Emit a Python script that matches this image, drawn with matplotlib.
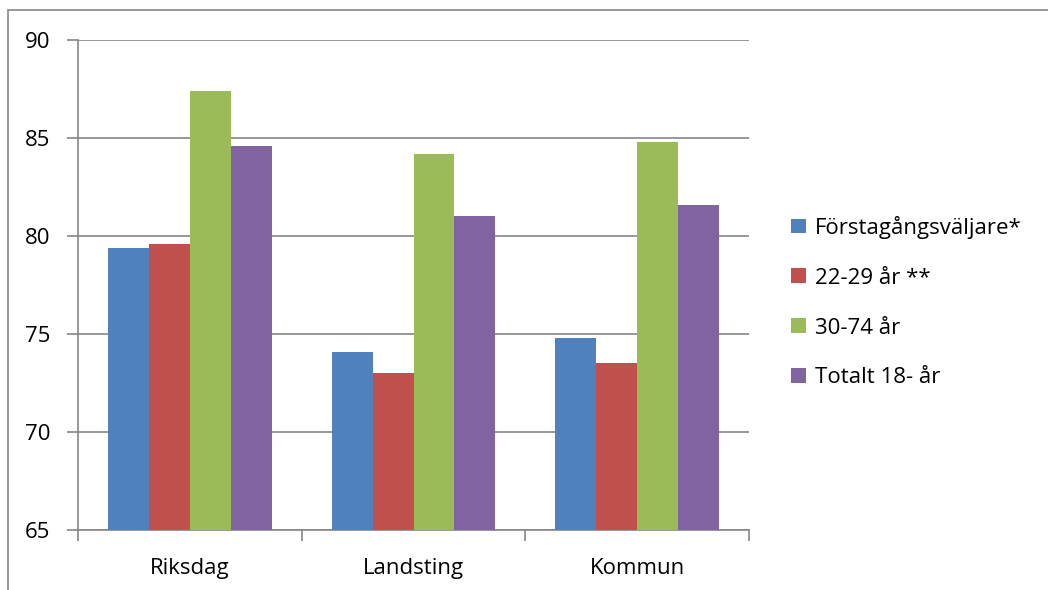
import matplotlib.pyplot as plt
import numpy as np
from matplotlib.patches import Rectangle

categories = ["Riksdag", "Landsting", "Kommun"]
series_names = ["Förstagångsväljare*", "22-29 år **", "30-74 år", "Totalt 18- år"]
forsta = [79.4, 74.1, 74.8]
unga = [79.6, 73.0, 73.5]
vuxna = [87.4, 84.2, 84.8]
totalt = [84.6, 81.0, 81.6]
colors = ["#4F81BD", "#C0504D", "#9BBB59", "#8064A2"]

plt.rcParams['font.family'] = ['Open Sans', 'DejaVu Sans']

fig = plt.figure(figsize=(10.48, 5.9), dpi=100)
ax = fig.add_axes([78/1048, 1-530/590, (749-78)/1048, (530-40)/590])

# outer frame like the source picture
fig.patches.append(Rectangle((8/1048, -0.1), 1.2, 1-10/590+0.1, transform=fig.transFigure,
                             fill=False, edgecolor="#868686", linewidth=1.2))

x = np.arange(len(categories))
w = 0.183
data = [forsta, unga, vuxna, totalt]
for i, vals in enumerate(data):
    ax.bar(x + (i - 1.5) * w, vals, w, color=colors[i], label=series_names[i], zorder=3)

ax.set_xlim(-0.5, 2.5)
ax.set_ylim(65, 90)
ax.set_yticks([65, 70, 75, 80, 85, 90])
ax.yaxis.grid(True, color="#868686", linewidth=1.2, zorder=0)
ax.set_xticks(x)
ax.set_xticklabels(categories, fontsize=16)
ax.set_xticks([-0.5, 0.5, 1.5, 2.5], minor=True)
ax.tick_params(axis='x', which='major', length=0, pad=20)
ax.tick_params(axis='x', which='minor', length=8, color="#868686", width=1.2)
ax.tick_params(axis='y', length=8, color="#868686", width=1.2, labelsize=16, pad=12)
for s in ["top", "right"]:
    ax.spines[s].set_visible(False)
for s in ["left", "bottom"]:
    ax.spines[s].set_color("#868686")
    ax.spines[s].set_linewidth(1.2)

ax.legend(loc="center left", bbox_to_anchor=(1.05, 0.465), frameon=False, fontsize=16,
          handlelength=0.65, handleheight=0.65, handletextpad=0.4, labelspacing=1.3,
          borderaxespad=0)

fig.savefig("out.png", dpi=100)
